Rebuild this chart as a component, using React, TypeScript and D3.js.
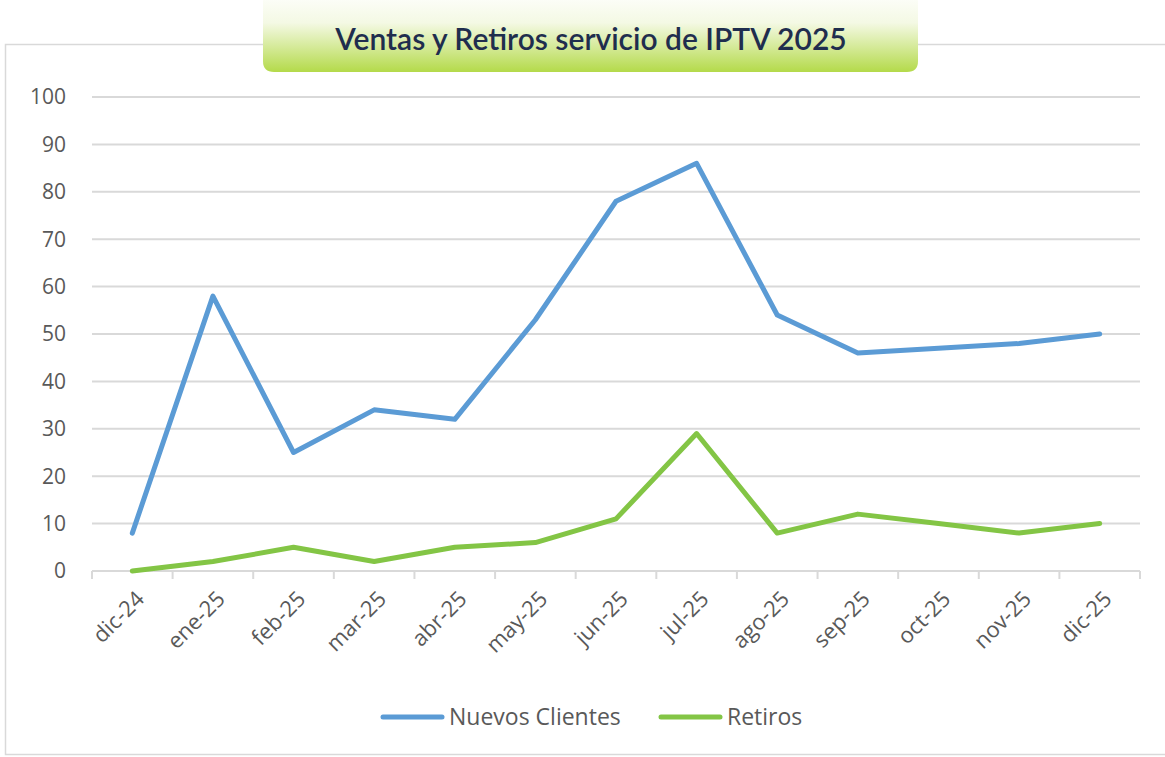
import React, { useEffect, useRef } from 'react';
import * as d3 from 'd3';

const months = ['dic-24', 'ene-25', 'feb-25', 'mar-25', 'abr-25', 'may-25', 'jun-25', 'jul-25', 'ago-25', 'sep-25', 'oct-25', 'nov-25', 'dic-25'];
const nuevosClientes = [8, 58, 25, 34, 32, 53, 78, 86, 54, 46, 47, 48, 50];
const retiros = [0, 2, 5, 2, 5, 6, 11, 29, 8, 12, 10, 8, 10];
const yTicks = [0, 10, 20, 30, 40, 50, 60, 70, 80, 90, 100];
const title = 'Ventas y Retiros servicio de IPTV 2025';

const BLUE = '#5B9BD5';
const GREEN = '#83C545';

const App = () => {
  const svgRef = useRef<SVGSVGElement>(null);

  useEffect(() => {
    const svg = d3.select(svgRef.current);
    svg.selectAll('*').remove();

    const width = 1165;
    const left = 92, right = 1140, top = 97, bottom = 571;
    const font = '"Open Sans", "Noto Sans", sans-serif';

    // outer frame
    svg.append('rect')
      .attr('x', 5.5).attr('y', 44.5)
      .attr('width', width - 4).attr('height', 710)
      .attr('fill', '#fff').attr('stroke', '#D9D9D9').attr('stroke-width', 1.5);

    // title box with gradient
    const defs = svg.append('defs');
    const grad = defs.append('linearGradient').attr('id', 'titleGrad')
      .attr('x1', 0).attr('y1', 0).attr('x2', 0).attr('y2', 1);
    grad.append('stop').attr('offset', '0%').attr('stop-color', '#FFFFFF');
    grad.append('stop').attr('offset', '40%').attr('stop-color', '#F4F9E4');
    grad.append('stop').attr('offset', '100%').attr('stop-color', '#B4DA4A');

    svg.append('path')
      .attr('d', (() => {
        const x0 = 263, x1 = 918, y0 = -10, y1 = 72, r = 11;
        return `M${x0},${y0} H${x1} V${y1 - r} Q${x1},${y1} ${x1 - r},${y1} H${x0 + r} Q${x0},${y1} ${x0},${y1 - r} Z`;
      })())
      .attr('fill', 'url(#titleGrad)');

    svg.append('text')
      .attr('x', 591).attr('y', 50)
      .attr('text-anchor', 'middle')
      .style('font-family', 'Lato, "Open Sans", sans-serif')
      .style('font-weight', 600)
      .style('font-size', '30px')
      .attr('fill', '#1F2D4E')
      .text(title);

    const x = d3.scaleBand().domain(months).range([left, right]);
    const y = d3.scaleLinear().domain([0, 100]).range([bottom, top]);
    const cx = (m: string) => (x(m) as number) + x.bandwidth() / 2;

    // gridlines
    svg.append('g')
      .selectAll('line')
      .data(yTicks.filter((t) => t > 0))
      .join('line')
      .attr('x1', left).attr('x2', right)
      .attr('y1', (d) => y(d)).attr('y2', (d) => y(d))
      .attr('stroke', '#D9D9D9').attr('stroke-width', 2);

    // y labels
    svg.append('g')
      .selectAll('text')
      .data(yTicks)
      .join('text')
      .attr('x', 66).attr('y', (d) => y(d))
      .attr('dy', '0.35em')
      .attr('text-anchor', 'end')
      .style('font-family', font)
      .style('font-size', '21px')
      .attr('fill', '#595959')
      .text((d) => d);

    // x axis
    const xAxis = svg.append('g');
    xAxis.append('line')
      .attr('x1', left).attr('x2', right)
      .attr('y1', bottom).attr('y2', bottom)
      .attr('stroke', '#D9D9D9').attr('stroke-width', 2);
    const boundaries = months.map((m) => x(m) as number).concat([right]);
    xAxis.selectAll('line.tick')
      .data(boundaries)
      .join('line')
      .attr('class', 'tick')
      .attr('x1', (d) => d).attr('x2', (d) => d)
      .attr('y1', bottom).attr('y2', bottom + 8)
      .attr('stroke', '#D9D9D9').attr('stroke-width', 2);

    xAxis.selectAll('text')
      .data(months)
      .join('text')
      .attr('transform', (d) => `translate(${cx(d) + 8},${bottom + 24}) rotate(-45)`)
      .attr('text-anchor', 'end')
      .attr('dy', '0.35em')
      .style('font-family', font)
      .style('font-size', '22px')
      .attr('fill', '#595959')
      .text((d) => d);

    // lines
    const line = d3.line<number>()
      .x((_, i) => cx(months[i]))
      .y((d) => y(d));

    [
      { values: nuevosClientes, color: BLUE },
      { values: retiros, color: GREEN },
    ].forEach((s) => {
      svg.append('path')
        .datum(s.values)
        .attr('d', line)
        .attr('fill', 'none')
        .attr('stroke', s.color)
        .attr('stroke-width', 5)
        .attr('stroke-linejoin', 'round')
        .attr('stroke-linecap', 'round');
    });

    // legend
    const legend = [
      { name: 'Nuevos Clientes', color: BLUE, x: 383 },
      { name: 'Retiros', color: GREEN, x: 661 },
    ];
    const lg = svg.append('g').selectAll('g').data(legend).join('g')
      .attr('transform', (d) => `translate(${d.x},717)`);
    lg.append('line')
      .attr('x1', 0).attr('x2', 59).attr('y1', 0).attr('y2', 0)
      .attr('stroke', (d) => d.color).attr('stroke-width', 5)
      .attr('stroke-linecap', 'round');
    lg.append('text')
      .attr('x', 66).attr('dy', '0.35em')
      .style('font-family', font)
      .style('font-size', '23px')
      .attr('fill', '#595959')
      .text((d) => d.name);
  }, []);

  return (
    <svg
      ref={svgRef}
      width={1165}
      height={757}
      style={{ position: 'absolute', left: 0, top: 0, display: 'block' }}
    />
  );
};

export default App;
